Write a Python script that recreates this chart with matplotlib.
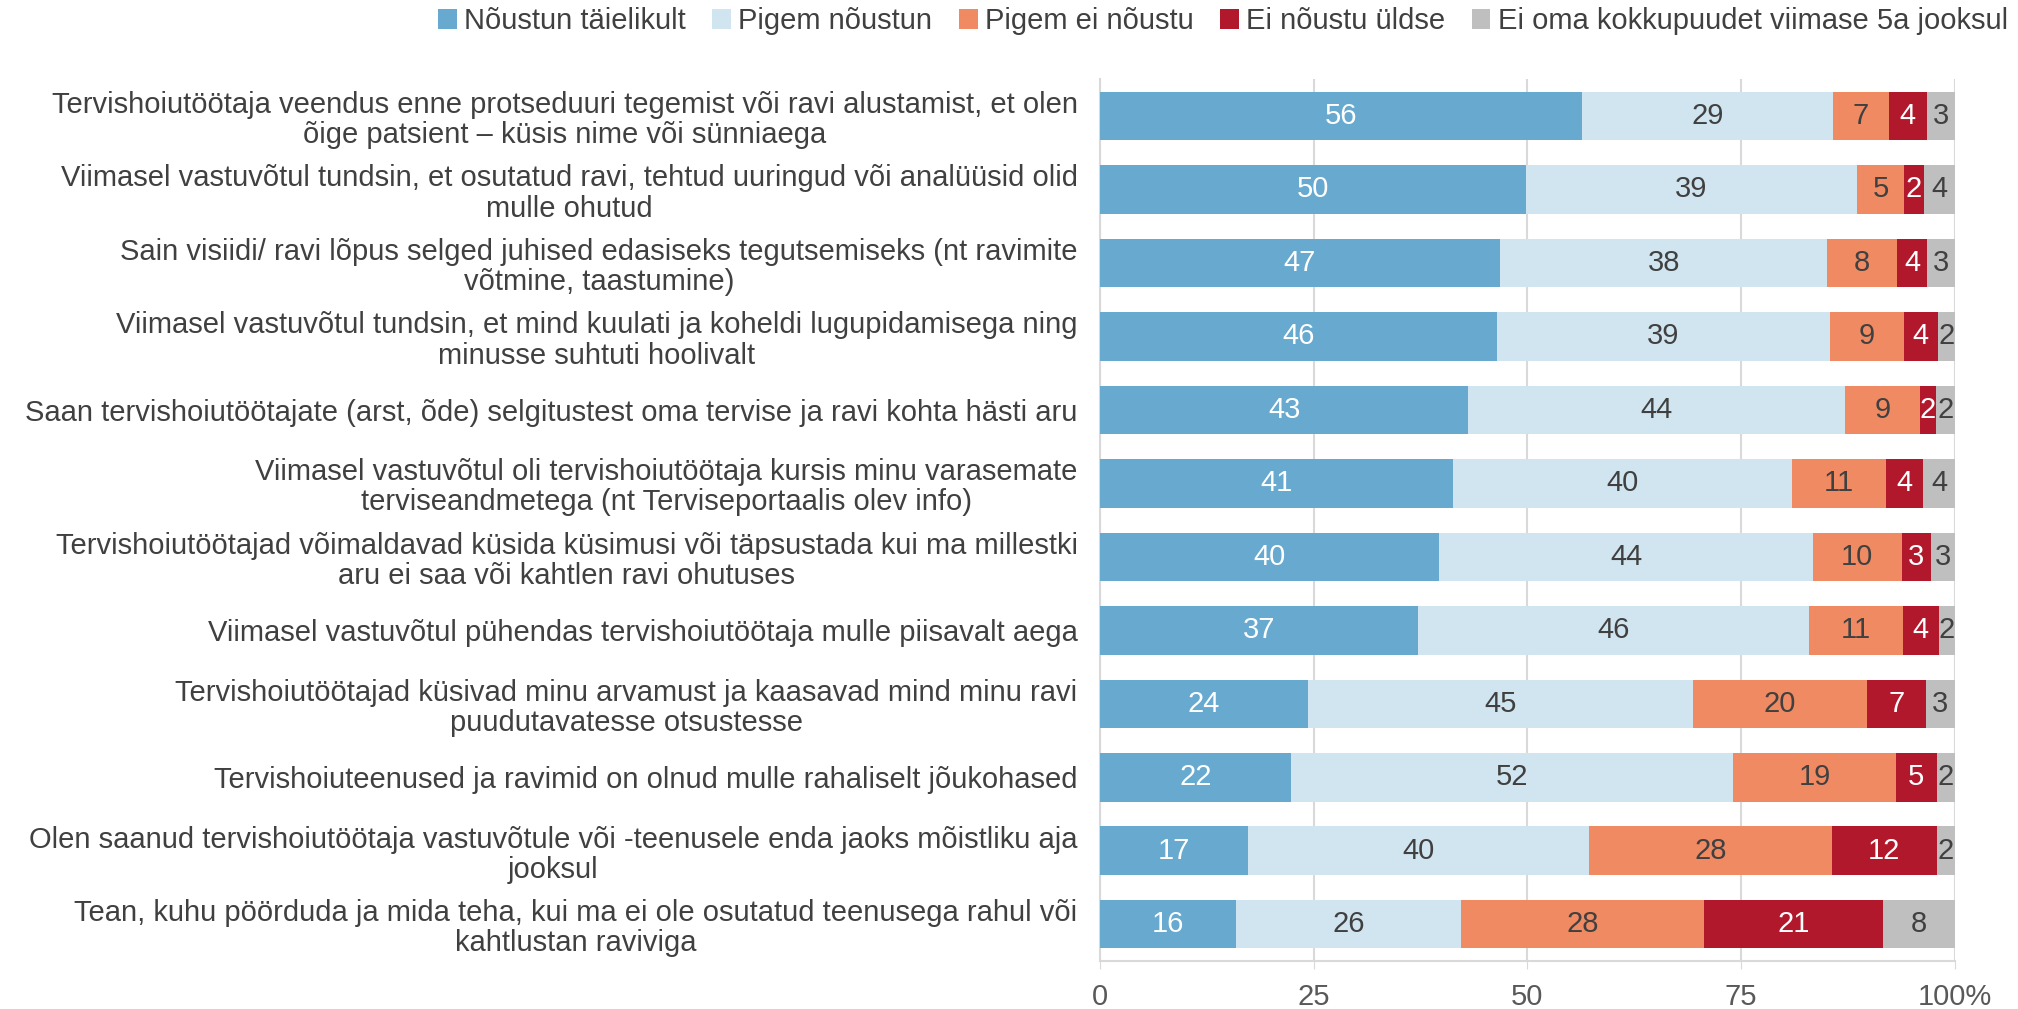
import numpy as np
import matplotlib.pyplot as plt

plt.rcParams['font.family'] = ['Liberation Sans', 'DejaVu Sans']

categories = [
    "Tervishoiutöötaja veendus enne protseduuri tegemist või ravi alustamist, et olen\nõige patsient – küsis nime või sünniaega",
    "Viimasel vastuvõtul tundsin, et osutatud ravi, tehtud uuringud või analüüsid olid\nmulle ohutud",
    "Sain visiidi/ ravi lõpus selged juhised edasiseks tegutsemiseks (nt ravimite\nvõtmine, taastumine)",
    "Viimasel vastuvõtul tundsin, et mind kuulati ja koheldi lugupidamisega ning\nminusse suhtuti hoolivalt",
    "Saan tervishoiutöötajate (arst, õde) selgitustest oma tervise ja ravi kohta hästi aru",
    "Viimasel vastuvõtul oli tervishoiutöötaja kursis minu varasemate\nterviseandmetega (nt Terviseportaalis olev info)",
    "Tervishoiutöötajad võimaldavad küsida küsimusi või täpsustada kui ma millestki\naru ei saa või kahtlen ravi ohutuses",
    "Viimasel vastuvõtul pühendas tervishoiutöötaja mulle piisavalt aega",
    "Tervishoiutöötajad küsivad minu arvamust ja kaasavad mind minu ravi\npuudutavatesse otsustesse",
    "Tervishoiuteenused ja ravimid on olnud mulle rahaliselt jõukohased",
    "Olen saanud tervishoiutöötaja vastuvõtule või -teenusele enda jaoks mõistliku aja\njooksul",
    "Tean, kuhu pöörduda ja mida teha, kui ma ei ole osutatud teenusega rahul või\nkahtlustan raviviga",
]

series_names = ["Nõustun täielikult", "Pigem nõustun", "Pigem ei nõustu",
                "Ei nõustu üldse", "Ei oma kokkupuudet viimase 5a jooksul"]

noustun_taielikult = [56.4, 49.8, 46.8, 46.4, 43.1, 41.3, 39.7, 37.2, 24.3, 22.4, 17.3, 15.9]
pigem_noustun      = [29.3, 38.8, 38.3, 39.0, 44.1, 39.6, 43.7, 45.8, 45.1, 51.7, 39.9, 26.4]
pigem_ei_noustu    = [6.6, 5.4, 8.1, 8.6, 8.7, 11.0, 10.4, 10.9, 20.3, 19.0, 28.4, 28.4]
ei_noustu_uldse    = [4.4, 2.4, 3.6, 4.0, 1.9, 4.4, 3.4, 4.2, 6.9, 4.8, 12.3, 20.9]
ei_oma_kokkupuudet = [3.3, 3.6, 3.2, 2.0, 2.2, 3.7, 2.8, 1.9, 3.4, 2.1, 2.1, 8.4]

series = [noustun_taielikult, pigem_noustun, pigem_ei_noustu, ei_noustu_uldse, ei_oma_kokkupuudet]
colors = ['#67A9CF', '#D1E5F0', '#EF8A62', '#B2182B', '#BFBFBF']
label_colors = ['white', '#404040', '#404040', 'white', '#404040']

xticks = [0, 25, 50, 75, 100]
xtick_labels = ['0', '25', '50', '75', '100%']

fs = 21

fig = plt.figure(figsize=(20.18, 10.09), dpi=100)
ax = fig.add_axes([0.545, 0.0476, 0.4237, 0.874])

y = np.arange(len(categories))
left = np.zeros(len(categories))
for vals, col, lcol, name in zip(series, colors, label_colors, series_names):
    vals = np.array(vals)
    ax.barh(y, vals, left=left, height=0.66, color=col, label=name, zorder=3)
    for yi, (l, v) in enumerate(zip(left, vals)):
        ax.text(l + v / 2, yi, f"{v:.0f}", ha='center', va='center',
                color=lcol, fontsize=fs, zorder=4)
    left += vals

ax.set_xlim(0, 100)
ax.set_ylim(len(categories) - 0.5, -0.5)
ax.set_yticks(y)
ax.set_yticklabels(categories, fontsize=fs, color='#404040', multialignment='center',
                   linespacing=1.1)
ax.tick_params(axis='y', length=0, pad=16)
ax.set_xticks(xticks)
ax.set_xticklabels(xtick_labels, fontsize=fs, color='#595959')
ax.tick_params(axis='x', length=6, color='#D9D9D9', pad=10)
ax.grid(axis='x', color='#D9D9D9', linewidth=1.5, zorder=0)
for s in ['top', 'right']:
    ax.spines[s].set_visible(False)
ax.spines['left'].set_color('#D9D9D9')
ax.spines['bottom'].set_color('#D9D9D9')
ax.spines['left'].set_linewidth(1.5)
ax.spines['bottom'].set_linewidth(1.5)

fig.legend(loc='upper right', bbox_to_anchor=(0.995, 0.993), ncol=5, frameon=False,
           fontsize=fs, handlelength=0.65, handleheight=0.65, handletextpad=0.25,
           columnspacing=0.9, labelcolor='#404040', borderaxespad=0, borderpad=0)

fig.savefig('out.png', dpi=100)
